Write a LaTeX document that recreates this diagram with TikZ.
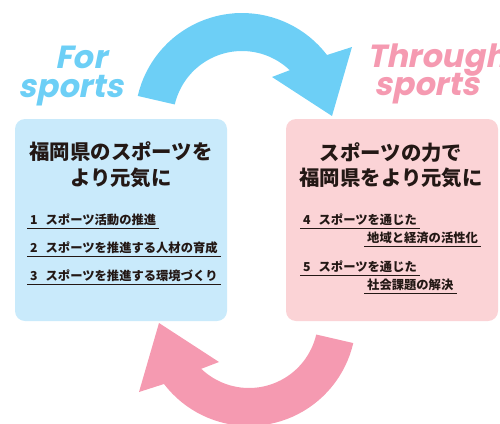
\documentclass[tikz,border=0pt]{standalone}
\usepackage{fontspec}
\newfontfamily\jpfont{Noto Sans CJK JP}
\newfontfamily\sportfont[FakeSlant=0.2]{Poppins}
\definecolor{skyarrow}{HTML}{6DCFF6}
\definecolor{rosearrow}{HTML}{F59AB1}
\definecolor{skybox}{HTML}{C9EAFB}
\definecolor{rosebox}{HTML}{FBD3D6}
\definecolor{ink}{HTML}{231815}
\tikzset{
  panel/.style={rounded corners=10pt, minimum width=212pt, minimum height=202pt, inner sep=0pt},
  paneltitle/.style={font=\jpfont\bfseries\fontsize{20.4}{25.5}\selectfont, text=ink, align=center},
  itemtext/.style={font=\jpfont\bfseries\fontsize{12.3}{14}\selectfont, text=ink, anchor=south west,
    inner xsep=3pt, inner ysep=0pt, text height=9.5pt, text depth=3pt},
  uline/.style={draw=ink, line width=0.8pt},
  sportword/.style={font=\sportfont\bfseries\fontsize{32}{32}\selectfont, inner sep=0pt, anchor=base}
}
\begin{document}
\begin{tikzpicture}[x=1pt,y=-1pt]
  \useasboundingbox (0,0) rectangle (500,423);
  \foreach \turn/\tint in {0/skyarrow,180/rosearrow}
    \fill[\tint, rotate around={\turn:(245.5,219.5)}]
      plot[domain=193:322.6,samples=40] ({242+107*cos(\x)},{120+107*sin(\x)})
      -- (352,47) -- (332,116) -- (272,77)
      -- plot[domain=313.8:193,samples=40] ({242+69*cos(\x)},{120+69*sin(\x)}) -- cycle;

  \node[sportword, text=skyarrow] (for1) at (81,68) {For};
  \node[sportword, text=skyarrow] (for2) at (71,97) {sports};
  \node[sportword, text=rosearrow, anchor=base west] (thr1) at (367,67) {Through};
  \node[sportword, text=rosearrow] (thr2) at (427,95) {sports};

  \node[panel, fill=skybox] (forbox) at (121,220) {};
  \node[panel, fill=rosebox] (thrbox) at (392,220) {};

  \node[paneltitle] (fortitle) at (121,164.5) {福岡県のスポーツを\\より元気に};
  \node[paneltitle] (thrtitle) at (391,165) {スポーツの力で\\福岡県をより元気に};

  \node[itemtext] (item1) at (27,228) {1\hspace{8pt}スポーツ活動の推進};
  \node[itemtext] (item2) at (27,256) {2\hspace{8pt}スポーツを推進する人材の育成};
  \node[itemtext] (item3) at (27,284) {3\hspace{8pt}スポーツを推進する環境づくり};
  \node[itemtext] (item4) at (300,228) {4\hspace{8pt}スポーツを通じた};
  \node[itemtext] (item4b) at (364,246) {地域と経済の活性化};
  \node[itemtext] (item5) at (300,275) {5\hspace{8pt}スポーツを通じた};
  \node[itemtext] (item5b) at (364,293) {社会課題の解決};
  \foreach \n in {item1,item2,item3,item4,item4b,item5,item5b}
    \draw[uline] (\n.south west) -- (\n.south east);
\end{tikzpicture}
\end{document}
